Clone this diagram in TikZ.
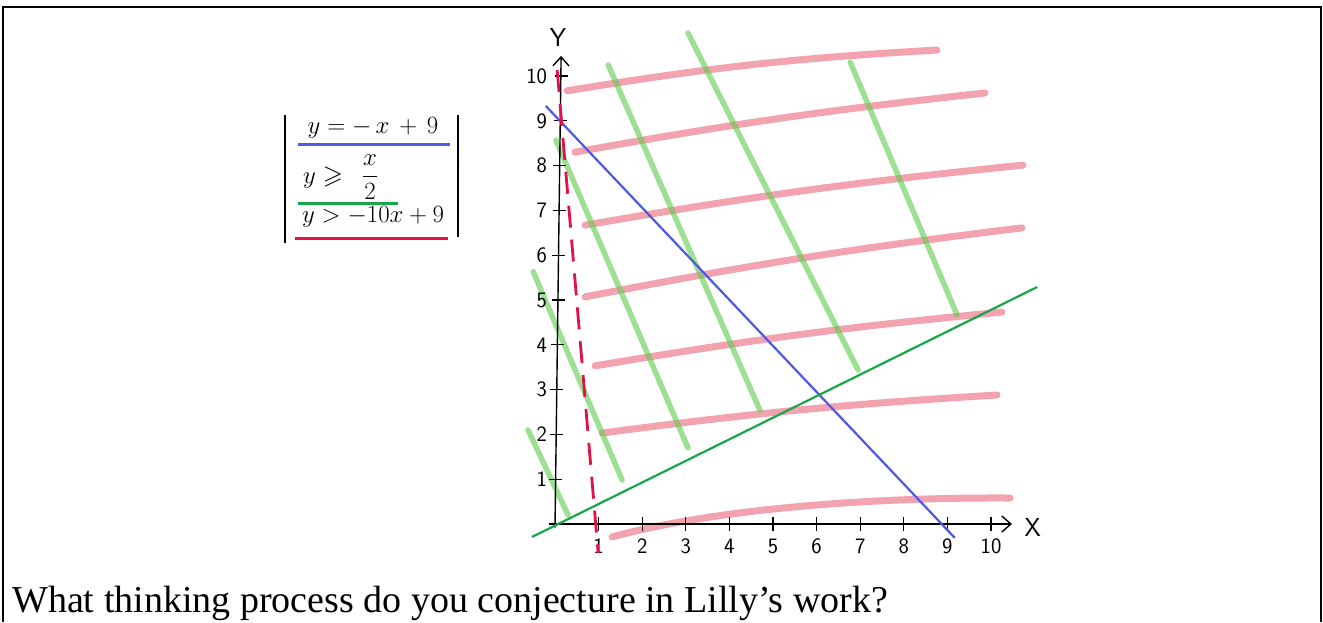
\documentclass[tikz,border=0pt]{standalone}
\usepackage{amsmath,amssymb}
\usepackage{fontspec}
\setmainfont{Liberation Serif}
\usetikzlibrary{arrows.meta}
\definecolor{pencilred}{RGB}{232,72,98}
\definecolor{pencilgreen}{RGB}{92,204,76}
\definecolor{lineblue}{RGB}{78,88,228}
\definecolor{linegreen}{RGB}{24,166,76}
\definecolor{dashred}{RGB}{226,18,72}
\tikzset{
  redhatch/.style={pencilred, line width=7pt, opacity=0.5, line cap=round},
  greenhatch/.style={pencilgreen, line width=5.5pt, opacity=0.6, line cap=round},
  axisline/.style={line width=1.4pt, -{Straight Barb[length=9pt,width=16pt,line width=1.4pt]}},
  legend/.style={inner sep=0pt, font=\fontsize{26}{28}\selectfont},
  ticklabel/.style={inner sep=0pt, font=\sffamily\fontsize{22}{22}\selectfont},
}
\begin{document}
\begin{tikzpicture}[x=1pt,y=-1pt]
  \useasboundingbox (0,0) rectangle (1323,622);
  % Frame
  \draw[line width=2.5pt] (3,622) -- (3,7) -- (1321,7) -- (1321,622);
  % Legend bars
  \draw[line width=1.6pt] (285,115) -- (285,243);
  \draw[line width=1.6pt] (458,115) -- (458,237);
  % Legend entries
  \node[legend] (eqblue) at (373,128) {$y = -\,x\, + \,9$};
  \draw[lineblue, line width=3pt] (298,144) -- (450,144);
  \node[legend, anchor=west] (eqgreen) at (303,178) {$y \geqslant$};
  \node[legend, font=\fontsize{23}{24}\selectfont] (eqfrac) at (370,177) {$\dfrac{x}{2}$};
  \draw[linegreen, line width=3pt] (298,203) -- (398,203);
  \node[legend] (eqred) at (373,217) {$y > -10x + 9$};
  \draw[dashred, line width=3pt] (295,238) -- (448,238);
  % Graph
  \begin{scope}[shift={(555,524)}, x=43.6pt, y=44.8pt]
    % Red shading
    \draw[redhatch] (0.28,9.67) to[bend left=3] (8.76,10.58);
    \draw[redhatch] (0.46,8.30) to[bend left=2] (9.86,9.62);
    \draw[redhatch] (0.69,6.67) to[bend left=2] (10.73,8.01);
    \draw[redhatch] (0.69,5.07) to[bend left=2] (10.71,6.61);
    \draw[redhatch] (0.92,3.53) to[bend left=2] (10.25,4.73);
    \draw[redhatch] (1.08,2.03) to[bend left=2] (10.14,2.88);
    \draw[redhatch] (1.31,-0.29) .. controls (3.5,0.3) and (7,0.6) .. (10.44,0.58);
    % Green shading
    \draw[greenhatch] (3.05,10.96) -- (6.95,3.44);
    \draw[greenhatch] (1.22,10.25) -- (4.70,2.54);
    \draw[greenhatch] (6.77,10.31) -- (9.22,4.67);
    \draw[greenhatch] (0.02,8.57) -- (3.05,1.70);
    \draw[greenhatch] (-0.50,5.63) -- (1.54,0.98);
    \draw[greenhatch] (-0.62,2.10) -- (0.30,0.20);
    % Axes
    \draw[axisline] (-0.14,0) -- (10.48,0);
    \draw[axisline] (0,-0.08) -- (0.14,10.45);
    \node[ticklabel, font=\sffamily\fontsize{26}{26}\selectfont] (xlabel) at (10.96,-0.07) {X};
    \node[ticklabel, font=\sffamily\fontsize{26}{26}\selectfont] (ylabel) at (0.07,10.87) {Y};
    % Ticks
    \foreach \k in {1,...,10} {
      \draw[line width=1.2pt] (\k,-0.15) -- (\k,0.15);
      \node[ticklabel] (x\k) at (\k,-0.5) {\k};
      \draw[line width=1.2pt] (0.014*\k-0.15,\k) -- (0.014*\k+0.15,\k);
      \node[ticklabel, anchor=east] (y\k) at (-0.18,\k) {\k};
    }
    % Boundary lines
    \draw[lineblue, line width=2.2pt] (-0.21,9.33) -- (9.17,-0.31);
    \draw[linegreen, line width=2.2pt] (-0.53,-0.29) -- (11.06,5.29);
    \draw[dashred, line width=2.8pt, dash pattern=on 22pt off 12pt] (0.05,10.13) -- (0.99,-0.65);
  \end{scope}
  % Question
  \node[anchor=base west, inner sep=0pt, font=\fontsize{38}{40}\selectfont] (question) at (12,612) {What thinking process do you conjecture in Lilly’s work?};
\end{tikzpicture}
\end{document}
